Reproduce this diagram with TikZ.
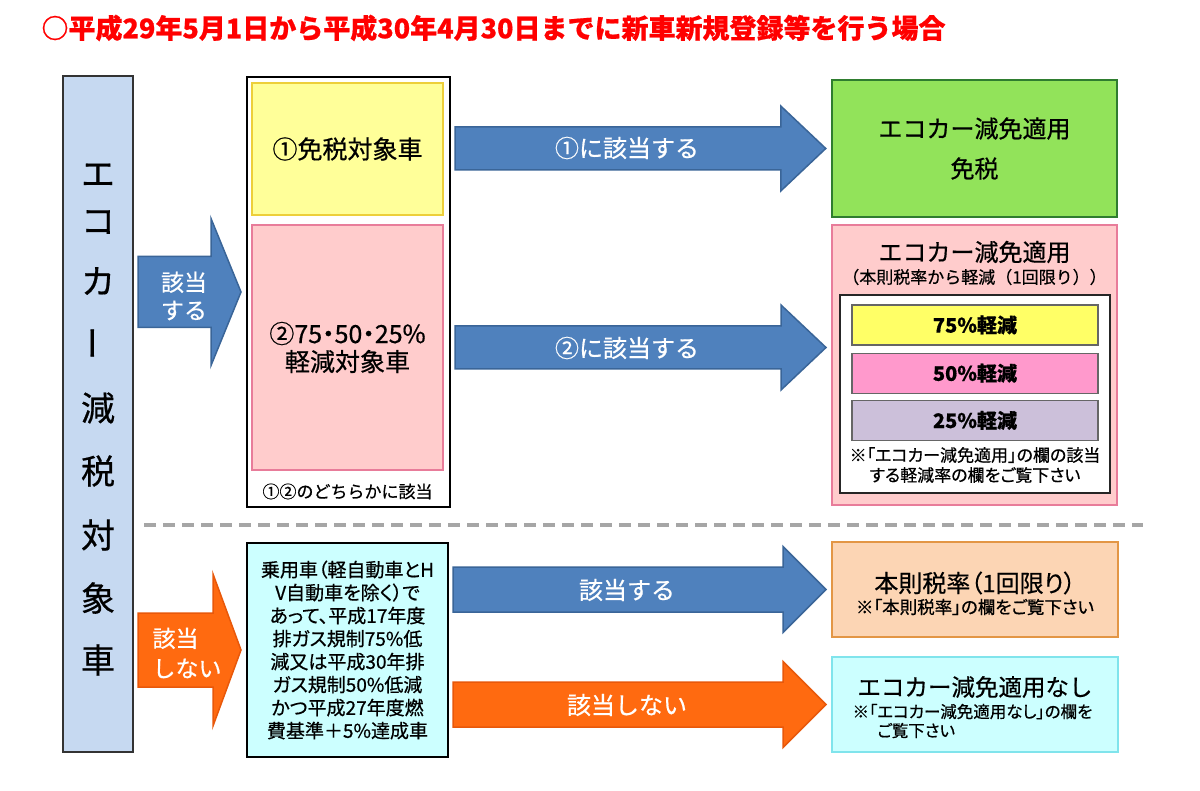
\documentclass[tikz,border=0pt]{standalone}
\usepackage{fontspec}
\setmainfont{Noto Sans CJK JP}[FakeBold=0.6]
\newfontfamily\pfont{Noto Sans CJK JP}[FakeBold=0.6, CharacterWidth=AlternateProportional]
\usepackage{tikz}
\usetikzlibrary{calc,positioning}

\definecolor{arrblue}{HTML}{4F81BD}
\definecolor{arrblueline}{HTML}{3A6598}
\definecolor{arrorange}{HTML}{FF6A10}
\definecolor{arrorangeline}{HTML}{E8580A}
\definecolor{barblue}{HTML}{C6D9F1}
\definecolor{boxyellow}{HTML}{FFFF99}
\definecolor{lineyellow}{HTML}{EDCF3A}
\definecolor{boxpink}{HTML}{FFCCCC}
\definecolor{linepink}{HTML}{E87C9A}
\definecolor{boxgreen}{HTML}{92E35A}
\definecolor{linegreen}{HTML}{2F7D2F}
\definecolor{rate75}{HTML}{FFFF66}
\definecolor{rate50}{HTML}{FF99CC}
\definecolor{rate25}{HTML}{CCC0DA}
\definecolor{boxpeach}{HTML}{FCD5B4}
\definecolor{linepeach}{HTML}{E39645}
\definecolor{boxcyan}{HTML}{CCFFFF}
\definecolor{linecyan}{HTML}{80E4EC}
\definecolor{titlered}{HTML}{FF0000}
\definecolor{sepgray}{HTML}{A6A6A6}

\newcommand{\jfs}[2]{\fontsize{#1}{#2}\selectfont}
% style, from, to, half shaft, half head, head length
\newcommand{\blockarrow}[6]{%
  \path[#1] let \p1=(#2), \p2=(#3) in
    (\x1+4pt,\y2+#4pt) -- (\x2-#6pt-5pt,\y2+#4pt) -- (\x2-#6pt-5pt,\y2+#5pt)
    -- (\x2-5pt,\y2) -- (\x2-#6pt-5pt,\y2-#5pt) -- (\x2-#6pt-5pt,\y2-#4pt)
    -- (\x1+4pt,\y2-#4pt) -- cycle;}

\begin{document}
\begin{tikzpicture}[x=1pt, y=-1pt, node distance=6pt,
  cbox/.style={draw, line width=2pt, inner sep=0pt, align=center},
  ratebar/.style={draw=gray!80!black, line width=1.2pt, inner sep=0pt,
    minimum width=246, minimum height=40, font=\bfseries\jfs{20}{22}},
  vchar/.style={font=\jfs{34}{36}},
  bluearrow/.style={fill=arrblue, draw=arrblueline, line width=1.5pt},
  orangearrow/.style={fill=arrorange, draw=arrorangeline, line width=1.5pt},
  arrtext/.style={text=white, font=\jfs{24}{28}}]

  \fill[white] (0,0) rectangle (1200,791);
  \useasboundingbox (0,0) rectangle (1200,791);

  \node[anchor=west, text=titlered, font=\bfseries\jfs{27}{30}] (title) at (38,28)
    {○平成29年5月1日から平成30年4月30日までに新車新規登録等を行う場合};

  \node[cbox, draw=black!80, fill=barblue, minimum width=70, minimum height=676] (ecobar) at (98,414) {};
  \foreach \c/\yy/\r in {エ/175/0,コ/222/0,カ/281/0,ー/343/90,減/408/0,税/471/0,対/535/0,象/598/0,車/660/0}
    \node[vchar, rotate=\r] (v\yy) at (98,\yy) {\c};

  \node[cbox, draw=black, fill=white, minimum width=203, minimum height=430] (grp) at (348.5,292) {};
  \node[cbox, draw=lineyellow, fill=boxyellow, minimum width=191, minimum height=132,
    font=\jfs{25}{30}] (ex) at (347.5,149) {①免税対象車};
  \node[cbox, draw=linepink, fill=boxpink, minimum width=191, minimum height=245,
    font=\pfont\jfs{25}{28}] (red) at (347.5,347.5) {②75・50・25\%\\軽減対象車};
  \node[font=\jfs{17}{20}, below=9pt of red] (grpcap) {①②のどちらかに該当};

  \node[cbox, draw=black, fill=boxcyan, minimum width=201, minimum height=214,
    font=\pfont\jfs{19}{23}] (cond) at (347.5,650)
    {乗用車（軽自動車とH\\V自動車を除く）で\\あって、平成17年度\\排ガス規制75\%低\\減又は平成30年排\\ガス規制50\%低減\\かつ平成27年度燃\\費基準＋5\%達成車};

  \node[cbox, line width=2.5pt, draw=linegreen, fill=boxgreen, minimum width=285, minimum height=137,
    font=\jfs{24}{40}] (exempt) at (974.5,148.5) {エコカー減免適用\\免税};

  \node[cbox, draw=linepink, fill=boxpink, minimum width=285, minimum height=280] (reduce) at (974.5,365) {};
  \node[font=\jfs{24}{28}] (redhead) at (974.5,252) {エコカー減免適用};
  \node[font=\jfs{17}{20}] (redsub) at (974.5,277) {（本則税率から軽減（1回限り））};
  \node[cbox, line width=1.5pt, draw=black!85, fill=white, minimum width=270, minimum height=198] (ratebox) at (975,394) {};
  \node[ratebar, fill=rate75] (r75) at (975,325) {75\%軽減};
  \node[ratebar, fill=rate50, below=7pt of r75] (r50) {50\%軽減};
  \node[ratebar, fill=rate25, below=of r50] (r25) {25\%軽減};
  \node[font=\pfont\jfs{17}{20}, align=center] (ratenote) at (975,465)
    {※「エコカー減免適用」の欄の該当\\する軽減率の欄をご覧下さい};

  \node[cbox, draw=linepeach, fill=boxpeach, minimum width=286, minimum height=95] (std) at (975,589.5) {};
  \node[font=\pfont\jfs{24}{26}] (stdhead) at (975,583) {本則税率（1回限り）};
  \node[font=\pfont\jfs{17.5}{19}] (stdnote) at (975,607) {※「本則税率」の欄をご覧下さい};

  \node[cbox, draw=linecyan, fill=boxcyan, minimum width=286, minimum height=95] (none) at (975,704.5) {};
  \node[font=\jfs{23.5}{26}] (nonehead) at (975,687) {エコカー減免適用なし};
  \node[font=\pfont\jfs{16.5}{19}, align=left, anchor=west] (nonenote) at (849,721)
    {※「エコカー減免適用なし」の欄を\\\hspace*{1.5em}ご覧下さい};

  \draw[sepgray, line width=3.5pt, dash pattern=on 12pt off 7pt] (144,525) -- (1143,525);

  \blockarrow{bluearrow}{ecobar.east |- grp.west}{grp.west}{35.5}{73.5}{30}
  \blockarrow{orangearrow}{ecobar.east |- cond.west}{cond.west}{37}{76}{28}
  \blockarrow{bluearrow}{grp.east |- exempt.west}{exempt.west}{21.5}{42.5}{45}
  \blockarrow{bluearrow}{grp.east |- red.east}{reduce.west |- red.east}{21.5}{42.5}{45}
  \blockarrow{bluearrow}{cond.east |- std.west}{std.west}{22.5}{43}{43}
  \blockarrow{orangearrow}{cond.east |- none.west}{none.west}{22.5}{43}{43}

  \node[arrtext, align=center, font=\jfs{23}{28}] (labin) at (184,296) {該当\\する};
  \node[arrtext, align=left, anchor=west, font=\jfs{23}{30}] (labout) at (149,653) {該当\\しない};
  \node[arrtext] (lab1) at (627,148) {①に該当する};
  \node[arrtext] (lab2) at (627,348) {②に該当する};
  \node[arrtext] (lab3) at (627,590) {該当する};
  \node[arrtext] (lab4) at (627,705) {該当しない};
\end{tikzpicture}
\end{document}
